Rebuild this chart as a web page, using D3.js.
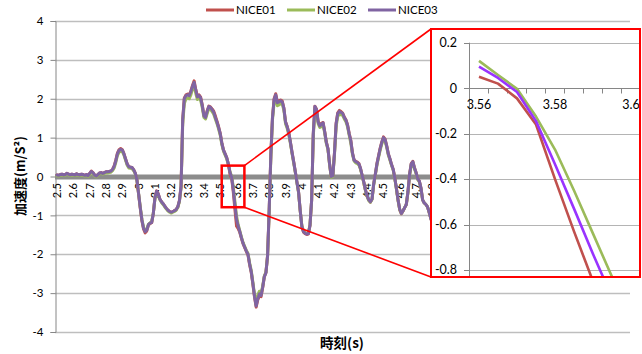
<!DOCTYPE html>
<html>
<head>
<meta charset="utf-8">
<script src="https://cdn.jsdelivr.net/npm/d3@7"></script>
<style>
  body { margin: 0; background: #fff; }
  svg { display: block; }
</style>
</head>
<body>
<svg id="chart" width="642" height="354"></svg>
<script>
// ---- data -------------------------------------------------------------
const seriesNames = ["NICE01", "NICE02", "NICE03"];
const seriesColors = ["#C0504D", "#9BBB59", "#8064A2"];
const insetColors = ["#C0504D", "#9BBB59", "#9933FF"];

// samples every 0.01 s starting at 2.50 s
const timeStart = 2.5;
const timeStep = 0.01;

const nice01 = [
  0.04, 0.03, 0.05, 0.06, 0.04, 0.05, 0.08, 0.06, 0.04, 0.06,
  0.05, 0.04, 0.07, 0.05, 0.04, 0.06, 0.05, 0.03, 0.05, 0.02,
  0.08, 0.14, 0.10, 0.04, 0.01, 0.05, 0.09, 0.10, 0.08, 0.10,
  0.12, 0.12, 0.13, 0.14, 0.18, 0.27, 0.42, 0.60, 0.69, 0.72,
  0.69, 0.59, 0.45, 0.32, 0.25, 0.24, 0.23, 0.17, 0.08, -0.10,
  -0.46, -0.82, -1.14, -1.35, -1.45, -1.40, -1.25, -1.21, -1.19, -0.95,
  -0.54, -0.37, -0.44, -0.58, -0.65, -0.70, -0.76, -0.82, -0.87, -0.90,
  -0.92, -0.90, -0.88, -0.85, -0.78, -0.62, -0.25, 1.47, 2.02, 2.10,
  2.12, 2.10, 2.20, 2.34, 2.46, 2.24, 2.07, 2.10, 2.04, 1.84,
  1.57, 1.53, 1.69, 1.81, 1.79, 1.74, 1.68, 1.56, 1.42, 1.28,
  1.11, 0.86, 0.68, 0.58, 0.48, 0.32, 0.05, -0.05, -0.40, -0.85,
  -1.28, -1.34, -1.44, -1.59, -1.73, -1.83, -1.93, -2.02, -2.27, -2.47,
  -2.77, -3.10, -3.36, -3.17, -3.08, -3.09, -2.86, -2.58, -2.47, -2.02,
  -0.85, 0.55, 1.52, 2.00, 2.13, 1.92, 1.94, 1.97, 1.94, 1.76,
  1.41, 1.29, 1.13, 0.88, 0.62, 0.38, 0.12, -0.15, -0.40, -0.88,
  -1.29, -1.43, -1.47, -1.49, -1.48, -1.26, -0.60, 1.10, 1.81, 1.73,
  1.42, 1.31, 1.37, 1.39, 1.16, 0.89, 0.72, 0.32, 0.00, 0.03,
  0.62, 1.37, 1.64, 1.70, 1.67, 1.63, 1.53, 1.46, 1.33, 1.11,
  0.93, 0.61, 0.43, 0.39, 0.37, 0.33, 0.20, 0.02, -0.15, -0.35,
  -0.50, -0.60, -0.66, -0.58, -0.20, 0.05, 0.33, 0.53, 0.73, 0.89,
  1.02, 0.96, 0.79, 0.58, 0.45, 0.30, 0.18, -0.05, -0.32, -0.62,
  -0.86, -0.96, -0.89, -0.80, -0.72, -0.40, 0.05, 0.33, 0.39, 0.23,
  0.10, -0.06, -0.12, -0.30, -0.60, -0.68, -0.72, -0.78, -0.92, -1.08,
  -1.20
];

const nice02 = [
  0.02, 0.01, 0.03, 0.04, 0.02, 0.03, 0.06, 0.04, 0.02, 0.04,
  0.03, 0.02, 0.05, 0.03, 0.02, 0.04, 0.03, 0.01, 0.03, 0.00,
  0.05, 0.10, 0.08, 0.02, -0.01, 0.03, 0.07, 0.08, 0.06, 0.08,
  0.09, 0.09, 0.10, 0.11, 0.15, 0.22, 0.36, 0.54, 0.62, 0.65,
  0.64, 0.55, 0.42, 0.29, 0.22, 0.21, 0.20, 0.15, 0.06, -0.12,
  -0.45, -0.78, -1.10, -1.30, -1.39, -1.36, -1.23, -1.19, -1.16, -0.94,
  -0.57, -0.41, -0.48, -0.60, -0.67, -0.72, -0.78, -0.84, -0.89, -0.92,
  -0.94, -0.92, -0.90, -0.87, -0.80, -0.64, -0.30, 1.35, 1.88, 2.00,
  2.02, 2.00, 2.10, 2.24, 2.36, 2.14, 1.98, 2.02, 1.96, 1.77,
  1.52, 1.48, 1.62, 1.75, 1.73, 1.67, 1.60, 1.48, 1.36, 1.22,
  1.06, 0.82, 0.65, 0.55, 0.45, 0.30, 0.12, 0.00, -0.27, -0.64,
  -1.02, -1.24, -1.40, -1.56, -1.70, -1.80, -1.90, -1.98, -2.22, -2.42,
  -2.72, -3.04, -3.28, -3.05, -2.95, -3.02, -2.82, -2.56, -2.46, -2.05,
  -0.90, 0.48, 1.45, 1.90, 2.02, 1.82, 1.84, 1.88, 1.86, 1.70,
  1.36, 1.24, 1.08, 0.85, 0.59, 0.35, 0.10, -0.17, -0.42, -0.88,
  -1.26, -1.40, -1.44, -1.46, -1.45, -1.24, -0.62, 1.02, 1.72, 1.65,
  1.36, 1.26, 1.28, 1.33, 1.12, 0.85, 0.69, 0.30, -0.02, 0.00,
  0.56, 1.28, 1.55, 1.60, 1.59, 1.57, 1.48, 1.41, 1.28, 1.06,
  0.86, 0.57, 0.40, 0.35, 0.33, 0.29, 0.18, 0.00, -0.17, -0.37,
  -0.52, -0.62, -0.66, -0.59, -0.22, 0.03, 0.29, 0.49, 0.68, 0.84,
  0.95, 0.91, 0.75, 0.55, 0.42, 0.28, 0.16, -0.07, -0.34, -0.63,
  -0.86, -0.95, -0.88, -0.80, -0.72, -0.42, 0.02, 0.29, 0.35, 0.20,
  0.08, -0.08, -0.14, -0.32, -0.60, -0.68, -0.72, -0.78, -0.92, -1.07,
  -1.19
];

const nice03 = [
  0.04, 0.03, 0.05, 0.06, 0.04, 0.05, 0.08, 0.06, 0.04, 0.06,
  0.05, 0.04, 0.07, 0.05, 0.04, 0.06, 0.05, 0.03, 0.05, 0.02,
  0.08, 0.13, 0.10, 0.04, 0.01, 0.05, 0.09, 0.10, 0.08, 0.10,
  0.12, 0.12, 0.13, 0.14, 0.18, 0.26, 0.40, 0.58, 0.67, 0.70,
  0.68, 0.58, 0.45, 0.32, 0.25, 0.24, 0.23, 0.17, 0.08, -0.10,
  -0.45, -0.80, -1.12, -1.33, -1.42, -1.38, -1.24, -1.20, -1.18, -0.95,
  -0.55, -0.38, -0.45, -0.58, -0.65, -0.70, -0.76, -0.82, -0.87, -0.90,
  -0.92, -0.90, -0.88, -0.85, -0.78, -0.62, -0.25, 1.45, 2.00, 2.08,
  2.10, 2.08, 2.18, 2.32, 2.42, 2.22, 2.05, 2.08, 2.02, 1.82,
  1.56, 1.52, 1.68, 1.80, 1.78, 1.72, 1.65, 1.52, 1.40, 1.26,
  1.10, 0.85, 0.68, 0.58, 0.48, 0.32, 0.10, -0.02, -0.34, -0.73,
  -1.11, -1.28, -1.42, -1.58, -1.72, -1.82, -1.92, -2.00, -2.25, -2.45,
  -2.75, -3.08, -3.33, -3.15, -3.02, -3.06, -2.85, -2.58, -2.48, -2.05,
  -0.85, 0.55, 1.50, 1.98, 2.10, 1.90, 1.92, 1.95, 1.92, 1.75,
  1.40, 1.28, 1.12, 0.88, 0.62, 0.38, 0.12, -0.15, -0.40, -0.88,
  -1.28, -1.42, -1.46, -1.48, -1.47, -1.25, -0.60, 1.10, 1.80, 1.72,
  1.40, 1.30, 1.35, 1.38, 1.15, 0.88, 0.72, 0.32, 0.00, 0.02,
  0.60, 1.35, 1.62, 1.67, 1.65, 1.62, 1.52, 1.45, 1.32, 1.10,
  0.92, 0.60, 0.42, 0.38, 0.36, 0.32, 0.20, 0.02, -0.15, -0.35,
  -0.50, -0.60, -0.65, -0.58, -0.20, 0.05, 0.32, 0.52, 0.72, 0.88,
  1.00, 0.95, 0.78, 0.58, 0.45, 0.30, 0.18, -0.05, -0.32, -0.62,
  -0.85, -0.95, -0.88, -0.80, -0.72, -0.40, 0.05, 0.32, 0.38, 0.22,
  0.10, -0.06, -0.12, -0.30, -0.60, -0.68, -0.72, -0.78, -0.92, -1.08,
  -1.20
];

const xTickLabels = [
  "2.5", "2.6", "2.7", "2.8", "2.9", "3", "3.1", "3.2", "3.3", "3.4",
  "3.5", "3.6", "3.7", "3.8", "3.9", "4", "4.1", "4.2", "4.3", "4.4",
  "4.5", "4.6", "4.7", "4.8", "4.9", "5", "5.1", "5.2", "5.3", "5.4",
  "5.5", "5.6", "5.7", "5.8", "5.9", "6"
];
const yTicks = [-4, -3, -2, -1, 0, 1, 2, 3, 4];

// magnified detail around 3.56 - 3.60 s (samples every 0.005 s)
const insetTimes = [3.56, 3.565, 3.57, 3.575, 3.58, 3.585, 3.59, 3.595, 3.60];
const insetNice01 = [0.05, 0.02, -0.045, -0.16, -0.40, -0.63, -0.85, -1.07, -1.28];
const insetNice02 = [0.12, 0.058, -0.003, -0.125, -0.27, -0.45, -0.64, -0.83, -1.02];
const insetNice03 = [0.095, 0.045, -0.017, -0.145, -0.335, -0.53, -0.73, -0.92, -1.11];
const insetYTicks = [0.2, 0, -0.2, -0.4, -0.6, -0.8];
const insetXLabels = ["3.56", "3.58", "3.6"];

// highlighted window on the main chart (time and value extent)
const focusTime = [3.509, 3.648];
const focusValue = [-0.79, 0.28];

// ---- drawing ----------------------------------------------------------
const svg = d3.select("#chart");
const font = "Lato, 'Liberation Sans', Arial, sans-serif";
const cjk = "'Noto Sans CJK JP', 'Noto Sans CJK SC', sans-serif";

const x = d3.scaleLinear().domain([2.49, 6.01]).range([55.4, 629.9]);
const y = d3.scaleLinear().domain([-4, 4]).range([332, 21]);

const main = svg.append("g");

// horizontal gridlines
main.append("g").selectAll("line")
  .data(yTicks.filter(d => d !== 0))
  .join("line")
  .attr("x1", 55).attr("x2", 630)
  .attr("y1", d => Math.round(y(d)) + 0.5).attr("y2", d => Math.round(y(d)) + 0.5)
  .attr("stroke", "#BEBEBE").attr("stroke-width", 1.4);

// value axis
const yAxis = d3.axisLeft(y).tickValues(yTicks).tickSize(5).tickPadding(7)
  .tickFormat(d => String(d));
const yAxisG = main.append("g").attr("transform", "translate(55.5,0)").call(yAxis);
yAxisG.select(".domain").attr("stroke", "#868686");
yAxisG.selectAll(".tick line").attr("stroke", "#868686");
yAxisG.selectAll("text").attr("font-family", font).attr("font-size", 11.5).attr("fill", "#000");

// thick zero line acting as the time axis
main.append("line")
  .attr("x1", 55).attr("x2", 630)
  .attr("y1", y(0) + 0.5).attr("y2", y(0) + 0.5)
  .attr("stroke", "#8C8C8C").attr("stroke-width", 5);

// rotated time labels
main.append("g").selectAll("text")
  .data(xTickLabels)
  .join("text")
  .attr("transform", d => `translate(${x(+d) + 4},183) rotate(-90)`)
  .attr("text-anchor", "end")
  .attr("font-family", font).attr("font-size", 11)
  .attr("fill", "#000")
  .text(d => d);

// series lines
const times = nice03.map((_, i) => timeStart + i * timeStep);
const line = d3.line().x(d => x(d[0])).y(d => y(d[1]));
[nice01, nice02, nice03].forEach((vals, k) => {
  main.append("path")
    .datum(vals.map((v, i) => [times[i], v]))
    .attr("d", line)
    .attr("fill", "none")
    .attr("stroke", seriesColors[k])
    .attr("stroke-width", 3)
    .attr("stroke-linejoin", "round")
    .attr("stroke-linecap", "round");
});

// axis titles
svg.append("text")
  .attr("transform", "translate(25,176) rotate(-90)")
  .attr("text-anchor", "middle")
  .attr("font-family", cjk).attr("font-weight", "bold").attr("font-size", 13)
  .text("加速度(m/S²)");
svg.append("text")
  .attr("x", 342).attr("y", 348)
  .attr("text-anchor", "middle")
  .attr("font-family", cjk).attr("font-weight", "bold").attr("font-size", 13.5)
  .text("時刻(s)");

// legend
const legend = svg.append("g");
seriesNames.forEach((name, k) => {
  const lx = 206 + k * 81;
  legend.append("line")
    .attr("x1", lx).attr("x2", lx + 28).attr("y1", 10).attr("y2", 10)
    .attr("stroke", seriesColors[k]).attr("stroke-width", 3);
  legend.append("text")
    .attr("x", lx + 30).attr("y", 14)
    .attr("font-family", font).attr("font-size", 11.5).attr("fill", "#000")
    .text(name);
});

// ---- callout ----------------------------------------------------------
const box = { x: 431, y: 29, w: 209, h: 248 };
const fx0 = x(focusTime[0]), fx1 = x(focusTime[1]);
const fy0 = y(focusValue[1]), fy1 = y(focusValue[0]);

svg.append("rect")
  .attr("x", fx0).attr("y", fy0).attr("width", fx1 - fx0).attr("height", fy1 - fy0)
  .attr("fill", "none").attr("stroke", "#FF0000").attr("stroke-width", 2.5);
svg.append("line")
  .attr("x1", fx1).attr("y1", fy0).attr("x2", box.x).attr("y2", box.y)
  .attr("stroke", "#FF0000").attr("stroke-width", 1.6);
svg.append("line")
  .attr("x1", fx1).attr("y1", fy1).attr("x2", box.x).attr("y2", box.y + box.h)
  .attr("stroke", "#FF0000").attr("stroke-width", 1.6);

// inset panel
svg.append("defs").append("clipPath").attr("id", "insetClip")
  .append("rect").attr("x", box.x).attr("y", box.y).attr("width", box.w).attr("height", box.h);

const inset = svg.append("g").attr("clip-path", "url(#insetClip)");
inset.append("rect")
  .attr("x", box.x).attr("y", box.y).attr("width", box.w).attr("height", box.h)
  .attr("fill", "#fff");

const ix = d3.scaleLinear().domain([3.5575, 3.6025]).range([469.5, 640.5]);
const iy = d3.scaleLinear().domain([-0.8, 0.2]).range([270, 42.7]);

inset.append("g").selectAll("line")
  .data(insetYTicks.filter(d => d !== 0))
  .join("line")
  .attr("x1", 469.5).attr("x2", 642)
  .attr("y1", d => Math.round(iy(d)) + 0.5).attr("y2", d => Math.round(iy(d)) + 0.5)
  .attr("stroke", "#B4B4B4").attr("stroke-width", 1.2);

// inset value axis
inset.append("line")
  .attr("x1", 469.5).attr("x2", 469.5).attr("y1", iy(0.2)).attr("y2", box.y + box.h)
  .attr("stroke", "#868686");
inset.append("g").selectAll("line")
  .data(insetYTicks)
  .join("line")
  .attr("x1", 464).attr("x2", 469.5)
  .attr("y1", d => Math.round(iy(d)) + 0.5).attr("y2", d => Math.round(iy(d)) + 0.5)
  .attr("stroke", "#868686");
inset.append("g").selectAll("text")
  .data(insetYTicks)
  .join("text")
  .attr("x", 457).attr("y", d => iy(d)).attr("dy", "0.35em")
  .attr("text-anchor", "end")
  .attr("font-family", font).attr("font-size", 12.5).attr("fill", "#000")
  .text(d => d === 0 ? "0" : String(d));

// inset time axis at zero
const iy0 = Math.round(iy(0)) + 0.5;
inset.append("line")
  .attr("x1", 469.5).attr("x2", 642).attr("y1", iy0).attr("y2", iy0)
  .attr("stroke", "#868686");
const insetBoundaries = insetTimes.map(t => t + 0.0025);
inset.append("g").selectAll("line")
  .data(insetBoundaries)
  .join("line")
  .attr("x1", d => ix(d)).attr("x2", d => ix(d))
  .attr("y1", iy0).attr("y2", iy0 + 5)
  .attr("stroke", "#868686");
inset.append("g").selectAll("text")
  .data(insetXLabels)
  .join("text")
  .attr("x", d => ix(+d)).attr("y", iy0 + 20)
  .attr("text-anchor", "middle")
  .attr("font-family", font).attr("font-size", 12.5).attr("fill", "#000")
  .text(d => d);

const insetLine = d3.line().x(d => ix(d[0])).y(d => iy(d[1]));
[insetNice01, insetNice02, insetNice03].forEach((vals, k) => {
  inset.append("path")
    .datum(vals.map((v, i) => [insetTimes[i], v]))
    .attr("d", insetLine)
    .attr("fill", "none")
    .attr("stroke", insetColors[k])
    .attr("stroke-width", 2.6)
    .attr("stroke-linejoin", "round");
});

svg.append("rect")
  .attr("x", box.x).attr("y", box.y).attr("width", box.w).attr("height", box.h)
  .attr("fill", "none").attr("stroke", "#FF0000").attr("stroke-width", 2);
</script>
</body>
</html>
